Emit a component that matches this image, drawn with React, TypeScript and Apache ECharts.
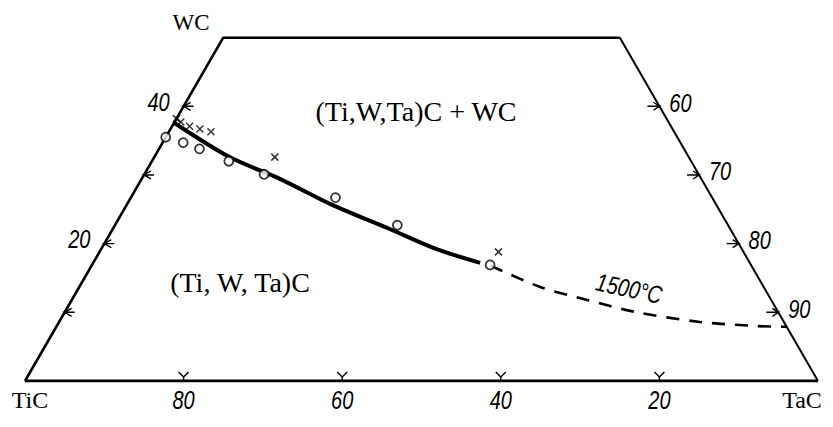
import React, { useEffect, useRef } from "react";
import * as echarts from "echarts";

// Compositions in mol.% (TiC = 100 - WC - TaC)
const solidWC = [37.6, 32.6, 29.4, 25.6, 22.1, 19.2, 17.2];
const solidTaC = [0, 9.5, 17.5, 26.0, 35.0, 42.3, 48.8];
const dashWC = [16.8, 13.7, 11.8, 10.1, 8.6, 8.0, 7.9];
const dashTaC = [50.3, 58.1, 65.0, 71.7, 80.8, 88.3, 92.1];
const circleWC = [35.5, 34.7, 33.8, 32.0, 30.1, 26.7, 22.7, 16.9];
const circleTaC = [0, 2.6, 5.1, 9.7, 15.1, 25.8, 35.6, 50.2];
const crossWC = [38.2, 37.7, 37.1, 36.7, 36.3, 32.6, 18.8];
const crossTaC = [0, 0.8, 2.2, 3.7, 5.3, 15.2, 50.3];

// Edge ticks
const bottomTicks = [80, 60, 40, 20]; // TiC %
const bottomLabels = ["80", "60", "40", "20"];
const leftTicks = [10, 20, 30, 40]; // WC %
const leftLabels = ["", "20", "", "40"];
const rightTicks = [60, 70, 80, 90]; // TaC %
const rightLabels = ["60", "70", "80", "90"];

const WC_TOP = 50; // section truncated at 50 % WC

const S3 = Math.sqrt(3) / 2;
const proj = (wc: number, tac: number) => [tac + wc / 2, wc * S3];
const pts = (wc: number[], tac: number[]) => wc.map((w, i) => proj(w, tac[i]));

const numFont = {
  fontSize: 25,
  fontFamily: "Liberation Sans",
  fontStyle: "italic",
  fill: "#000",
  align: "center",
  verticalAlign: "middle",
};

function tickSeries(
  data: number[][],
  labels: string[],
  mark: number[][],
  labelOffset: number[]
) {
  return {
    type: "custom",
    data,
    silent: true,
    renderItem: (params: any, api: any) => {
      const p = api.coord([api.value(0), api.value(1)]);
      const children: any[] = [
        {
          type: "polyline",
          shape: { points: mark.map((m) => [p[0] + m[0], p[1] + m[1]]) },
          style: { stroke: "#000", fill: "none", lineWidth: 1.4 },
        },
      ];
      const t = labels[params.dataIndex];
      if (t) {
        children.push({
          type: "text",
          x: p[0] + labelOffset[0],
          y: p[1] + labelOffset[1],
          scaleX: 0.8,
          style: { text: t, ...numFont },
        });
      }
      return { type: "group", children };
    },
  };
}

export default function App() {
  const ref = useRef<HTMLDivElement>(null);
  useEffect(() => {
    if (!ref.current) return;
    const chart = echarts.init(ref.current, undefined, { renderer: "svg" });
    const black = "#000";
    const serif = { fontFamily: "Liberation Serif", fill: black, align: "center", verticalAlign: "middle" };
    const option: any = {
      animation: false,
      grid: { left: 25, right: 15, top: 37.6, bottom: 46 },
      xAxis: { type: "value", min: 0, max: 100, show: false },
      yAxis: { type: "value", min: 0, max: WC_TOP * S3, show: false },
      series: [
        {
          type: "line",
          data: [proj(0, 0), proj(WC_TOP, 0), proj(WC_TOP, 100 - WC_TOP)],
          symbol: "none",
          lineStyle: { color: black, width: 2.6 },
          silent: true,
        },
        {
          type: "line",
          data: [proj(0, 100), proj(0, 0)],
          symbol: "none",
          lineStyle: { color: black, width: 2.8 },
          silent: true,
        },
        {
          type: "line",
          data: [proj(WC_TOP, 100 - WC_TOP), proj(0, 100)],
          symbol: "none",
          lineStyle: { color: black, width: 2 },
          silent: true,
        },
        {
          type: "line",
          data: pts(solidWC, solidTaC),
          symbol: "none",
          smooth: 0.3,
          lineStyle: { color: black, width: 4 },
          silent: true,
        },
        {
          type: "line",
          data: pts(dashWC, dashTaC),
          symbol: "none",
          smooth: 0.3,
          lineStyle: { color: black, width: 2.6, type: [13, 10] },
          silent: true,
        },
        {
          type: "scatter",
          data: pts(circleWC, circleTaC),
          symbol: "circle",
          symbolSize: 9,
          itemStyle: { color: "#fff", borderColor: black, borderWidth: 1.8 },
          silent: true,
          z: 5,
        },
        {
          type: "scatter",
          data: pts(crossWC, crossTaC),
          symbol: "path://M0,0L10,10M10,0L0,10",
          symbolSize: 7,
          itemStyle: { color: "none", borderColor: black, borderWidth: 1.5 },
          silent: true,
          z: 5,
        },
        tickSeries(
          bottomTicks.map((t) => proj(0, 100 - t)),
          bottomLabels,
          [[-5, -9], [0, -4], [5, -9], [0, -4], [0, 0]],
          [0, 20]
        ),
        tickSeries(
          leftTicks.map((w) => proj(w, 0)),
          leftLabels,
          [[7, -4], [0, 0], [7, 4], [0, 0], [10, 0]],
          [-25, -4]
        ),
        tickSeries(
          rightTicks.map((t) => proj(100 - t, t)),
          rightLabels,
          [[-6, -4], [0, 0], [-6, 4], [0, 0], [-12, 0]],
          [21, -3]
        ),
      ],
      graphic: [
        { type: "text", x: 191, y: 22, style: { text: "WC", fontSize: 23, ...serif } },
        { type: "text", x: 30, y: 400, style: { text: "TiC", fontSize: 24, ...serif } },
        { type: "text", x: 802, y: 400, style: { text: "TaC", fontSize: 24, ...serif } },
        { type: "text", x: 416, y: 111, style: { text: "(Ti,W,Ta)C + WC", fontSize: 28, ...serif } },
        { type: "text", x: 240, y: 282, style: { text: "(Ti, W, Ta)C", fontSize: 28, ...serif } },
        {
          type: "text",
          x: 629,
          y: 289,
          rotation: -0.21,
          scaleX: 0.8,
          style: { text: "1500°C", ...numFont },
        },
      ],
    };
    chart.setOption(option);
    return () => chart.dispose();
  }, []);
  return (
    <div
      ref={ref}
      style={{ position: "fixed", left: 0, top: 0, width: 833, height: 427, background: "#fff" }}
    />
  );
}
